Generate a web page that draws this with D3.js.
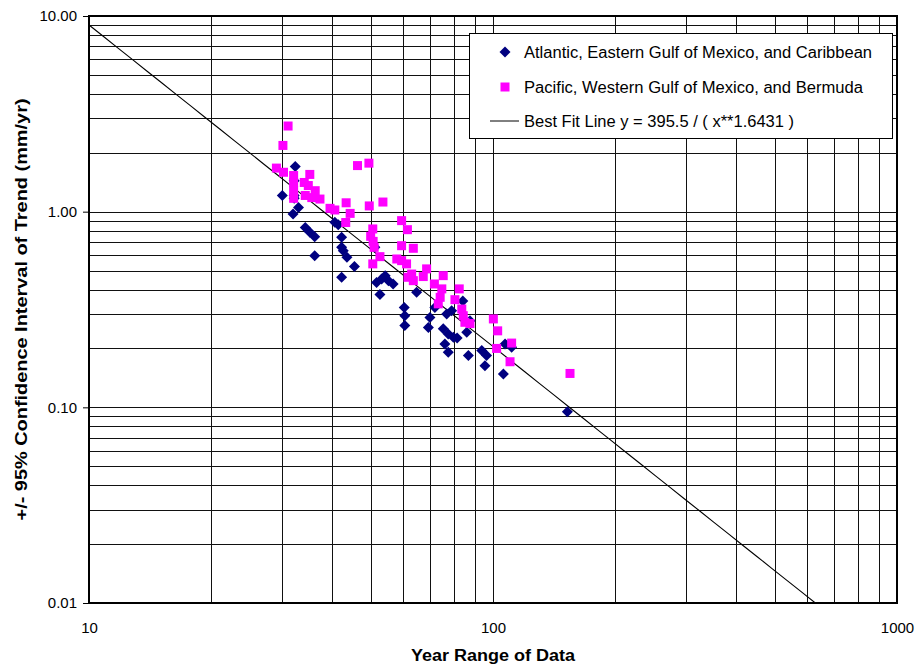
<!DOCTYPE html>
<html><head><meta charset="utf-8">
<script src="https://cdn.jsdelivr.net/npm/d3@7"></script>
<style>body{margin:0;background:#fff;}svg{display:block;font-family:"Liberation Sans",Arial,sans-serif;}</style>
</head><body><svg id="c" width="922" height="668"></svg>
<script>
// Atlantic, Eastern Gulf of Mexico, and Caribbean: [year range, CI]
const atlanticX = [32.4,30.1,32.2,32.2,32.2,33.0,32.0,34.3,35.2,36.2,36.2,40.6,41.4,42.2,42.2,42.6,43.5,45.4,42.2,51.0,51.5,53.0,54.1,55.1,56.6,52.5,60.3,60.5,60.5,64.7,69.8,69.2,71.8,76.8,79.0,75.3,77.5,79.8,76.0,77.5,84.2,86.1,87.7,86.9,93.8,96.4,95.5,107.1,111.2,106.1,152.8,81.5];
const atlanticY = [1.70,1.21,1.44,1.21,1.17,1.05,0.973,0.831,0.784,0.745,0.596,0.882,0.858,0.739,0.657,0.632,0.584,0.524,0.462,0.657,0.435,0.453,0.471,0.444,0.427,0.377,0.324,0.294,0.262,0.387,0.288,0.256,0.324,0.300,0.312,0.252,0.237,0.228,0.211,0.191,0.350,0.242,0.277,0.184,0.195,0.184,0.163,0.211,0.203,0.148,0.095,0.226];
// Pacific, Western Gulf of Mexico, and Bermuda
const pacificX = [31.1,30.2,29.1,30.3,32.1,32.1,32.1,32.1,35.2,34.1,34.9,36.3,37.3,35.6,34.3,39.5,40.6,43.3,44.3,43.2,46.2,49.3,49.4,53.4,50.4,49.8,50.5,50.8,52.5,50.4,59.4,61.4,59.4,63.5,57.8,59.4,61.1,61.6,63.5,62.9,68.5,67.2,71.6,75.3,74.7,74.0,73.2,82.5,80.5,83.7,84.4,85.2,87.7,100.2,102.7,111.2,102.1,110.2,155.1];
const pacificY = [2.74,2.18,1.67,1.59,1.53,1.41,1.28,1.17,1.55,1.41,1.36,1.28,1.16,1.18,1.21,1.04,1.02,1.11,0.98,0.88,1.72,1.77,1.07,1.12,0.816,0.748,0.705,0.657,0.589,0.541,0.90,0.809,0.67,0.65,0.573,0.562,0.541,0.462,0.444,0.48,0.51,0.466,0.427,0.471,0.403,0.365,0.338,0.403,0.355,0.318,0.294,0.272,0.268,0.283,0.246,0.213,0.200,0.171,0.149];
const fitA = 395.5, fitB = 1.6431;
const xTickLabels = ["10","100","1000"];
const yTickLabels = ["0.01","0.10","1.00","10.00"];
const seriesNames = ["Atlantic, Eastern Gulf of Mexico, and Caribbean","Pacific, Western Gulf of Mexico, and Bermuda","Best Fit Line y = 395.5 / ( x**1.6431 )"];

const svg = d3.select("#c");
const L=89, R=897, T=16, B=603;
const x = d3.scaleLog().domain([10,1000]).range([L,R]);
const y = d3.scaleLog().domain([0.01,10]).range([B,T]);

// grid
const xs=[], ys=[];
for (let d=10; d<1000; d*=10) for (let k=1;k<=9;k++){ const v=d*k; if(v>10 && v<1000) xs.push(v); }
for (let d=0.01; d<9; d*=10) for (let k=1;k<=9;k++){ const v=d*k; if(v>0.0100001 && v<9.99) ys.push(v); }
const g = svg.append("g");
g.selectAll("line.vx").data(xs).join("line").attr("x1",d=>Math.round(x(d))+0.5).attr("x2",d=>Math.round(x(d))+0.5)
  .attr("y1",T).attr("y2",B).attr("stroke","#111").attr("stroke-width",1);
g.selectAll("line.hy").data(ys).join("line").attr("y1",d=>Math.round(y(d))+0.5).attr("y2",d=>Math.round(y(d))+0.5)
  .attr("x1",L).attr("x2",R).attr("stroke","#111").attr("stroke-width",1);

// axes
const xAxis = d3.axisBottom(x).tickValues(xTickLabels.map(Number)).tickFormat((d,i)=>xTickLabels[i]).tickSize(0).tickPadding(19);
const yAxis = d3.axisLeft(y).tickValues(yTickLabels.map(Number)).tickFormat((d,i)=>yTickLabels[i]).tickSize(6).tickPadding(6);
const gx = svg.append("g").attr("transform",`translate(0,${B})`).call(xAxis);
const gy = svg.append("g").attr("transform",`translate(${L},0)`).call(yAxis);
[gx,gy].forEach(a=>{a.select(".domain").remove(); a.selectAll("text").attr("font-size",15).attr("fill","#000").attr("font-family","Liberation Sans, Arial, sans-serif"); a.selectAll("line").attr("stroke","#000");});

// fit line
svg.append("clipPath").attr("id","pc").append("rect").attr("x",L).attr("y",T).attr("width",R-L).attr("height",B-T);
const xEnd = Math.pow(fitA/0.01, 1/fitB);
const fitPts = d3.range(0,51).map(i=>10*Math.pow(xEnd/10,i/50)).map(v=>[v, fitA/Math.pow(v,fitB)]);
svg.append("path").attr("clip-path","url(#pc)").datum(fitPts).attr("fill","none").attr("stroke","#000").attr("stroke-width",1.1)
  .attr("d", d3.line().x(d=>x(d[0])).y(d=>y(d[1])));

// points
const diamond = s=>`M0,${-s}L${s},0L0,${s}L${-s},0Z`;
const atl = atlanticX.map((v,i)=>[v,atlanticY[i]]);
const pac = pacificX.map((v,i)=>[v,pacificY[i]]);
svg.append("g").selectAll("path").data(atl).join("path").attr("d",diamond(5.5))
  .attr("transform",d=>`translate(${x(d[0])},${y(d[1])})`).attr("fill","#000080");
svg.append("g").selectAll("rect").data(pac).join("rect").attr("width",9).attr("height",9)
  .attr("x",d=>x(d[0])-4.5).attr("y",d=>y(d[1])-4.5).attr("fill","#FF00FF");

// border
svg.append("rect").attr("x",L).attr("y",T).attr("width",R-L).attr("height",B-T).attr("fill","none").attr("stroke","#000").attr("stroke-width",2);

// legend
const lg = svg.append("g");
lg.append("rect").attr("x",469.5).attr("y",33.5).attr("width",423).attr("height",105).attr("fill","#fff").attr("stroke","#000").attr("stroke-width",1);
lg.append("path").attr("d",diamond(5.5)).attr("transform","translate(505,52)").attr("fill","#000080");
lg.append("rect").attr("x",500.5).attr("y",82.5).attr("width",9).attr("height",9).attr("fill","#FF00FF");
lg.append("line").attr("x1",490).attr("x2",519).attr("y1",121).attr("y2",121).attr("stroke","#000").attr("stroke-width",1);
const legW = [348,339,270];
[52,87,121].forEach((yy,i)=>lg.append("text").attr("x",524).attr("y",yy).attr("dy","0.35em").attr("font-size",16)
  .attr("textLength",legW[i]).attr("lengthAdjust","spacingAndGlyphs").text(seriesNames[i]));

// titles
svg.append("text").attr("x",(L+R)/2).attr("y",661).attr("text-anchor","middle").attr("font-weight","bold").attr("font-size",16)
  .attr("textLength",164).attr("lengthAdjust","spacingAndGlyphs").text("Year Range of Data");
svg.append("text").attr("transform",`translate(27,${(T+B)/2}) rotate(-90)`).attr("text-anchor","middle").attr("font-weight","bold").attr("font-size",16)
  .attr("textLength",422).attr("lengthAdjust","spacingAndGlyphs").text("+/- 95% Confidence Interval of Trend (mm/yr)");
</script></body></html>
